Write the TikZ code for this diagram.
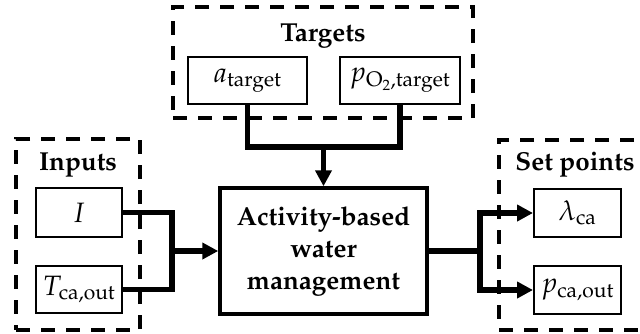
\documentclass[tikz,border=0pt]{standalone}
\usepackage[T1]{fontenc}
\usepackage{mathpazo}
\usetikzlibrary{arrows.meta}
\DeclareMathSizes{28}{28}{21}{15}
\begin{document}
\begin{tikzpicture}[x=1pt,y=-1pt,
  group/.style={draw, line width=3.3pt, dash pattern=on 14pt off 11pt, inner sep=0pt},
  grouplabel/.style={font=\fontsize{26}{31}\selectfont\bfseries, inner sep=0pt, anchor=base},
  var/.style={draw, line width=2pt, minimum height=47pt, inner sep=0pt,
    font=\fontsize{28}{33}\selectfont},
  core/.style={draw, line width=3.5pt, minimum width=207pt, minimum height=126pt,
    inner sep=0pt, align=center, font=\fontsize{26}{32}\selectfont\bfseries},
  link/.style={line width=5.5pt, line join=miter},
  feed/.style={link, -{Triangle[length=16pt,width=16pt]}}
]
\clip (0,0) rectangle (640,333);
\fill[white] (0,0) rectangle (640,333);

% dashed group frames
\node[group, minimum width=300pt, minimum height=111pt] (tgtframe) at (323,62.5) {};
\node[group, minimum width=124pt, minimum height=191pt] (inframe) at (78,234.5) {};
\node[group, minimum width=160pt, minimum height=190pt] (spframe) at (579,235) {};

% group titles
\node[grouplabel] (tgtlabel) at (323,41) {Targets};
\node[grouplabel] (inlabel) at (78,170) {Inputs};
\node[grouplabel] (splabel) at (575,170) {Set points};

% target values
\node[var, minimum width=119pt] (atgt) at (247.5,80.5) {$a_{\mathrm{target}}$};
\node[var, minimum width=120pt] (ptgt) at (400,80.5) {$p_{\mathrm{O}_2,\mathrm{target}}$};

% inputs
\node[var, minimum width=86pt, minimum height=49pt] (cur) at (79,212.5) {$I$};
\node[var, minimum width=86pt] (tca) at (79,289.5) {$T_{\mathrm{ca,out}}$};

% set points
\node[var, minimum width=87pt, minimum height=48pt] (lam) at (577.5,213) {$\lambda_{\mathrm{ca}}$};
\node[var, minimum width=87pt, minimum height=48pt] (pca) at (577.5,290) {$p_{\mathrm{ca,out}}$};

% controller
\node[core] (ctrl) at (323.5,251) {Activity-based\\water\\management};

% junction points
\coordinate (jin) at (172,251);
\coordinate (jtgt) at (323.5,147);
\coordinate (jout) at (480,251);

% connectors
\draw[link] (cur.east) -| (jin) |- (tca.east);
\draw[feed] (jin) -- (ctrl.west);
\draw[link] (atgt.south) |- (jtgt) -| (ptgt.south);
\draw[feed] (jtgt) -- (ctrl.north);
\draw[link] (ctrl.east) -- (jout);
\draw[feed] (jout) |- (lam.west);
\draw[feed] (jout) |- (pca.west);
\end{tikzpicture}
\end{document}
